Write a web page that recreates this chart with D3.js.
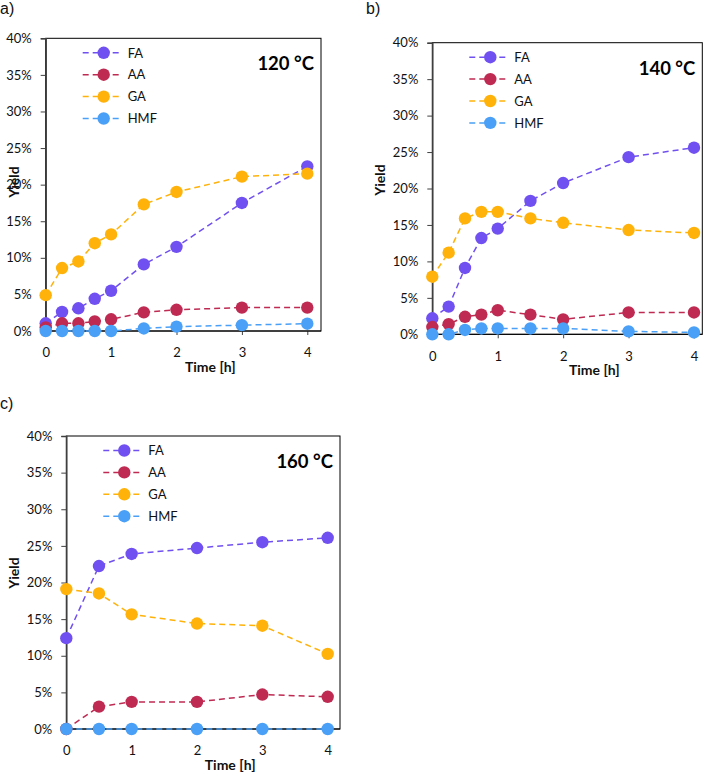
<!DOCTYPE html>
<html>
<head>
<meta charset="utf-8">
<script src="https://cdn.jsdelivr.net/npm/d3@7"></script>
<style>
  html, body { margin: 0; padding: 0; background: #fff; }
  svg { display: block; }
</style>
</head>
<body>
<svg id="chart" width="709" height="773"></svg>
<script>
// ---------- DATA ----------
const seriesNames = ["FA", "AA", "GA", "HMF"];
const seriesColors = ["#7050F0", "#BE2A52", "#FFB20A", "#4AA0F6"];
const yTicks = [0, 0.05, 0.10, 0.15, 0.20, 0.25, 0.30, 0.35, 0.40];
const xTicks = [0, 1, 2, 3, 4];

// 120 °C
const time120 = [0, 0.25, 0.5, 0.75, 1, 1.5, 2, 3, 4];
const fa120  = [0.0105, 0.026, 0.031, 0.044, 0.055, 0.091, 0.115, 0.175, 0.225];
const aa120  = [0.005, 0.0105, 0.0105, 0.013, 0.016, 0.0255, 0.029, 0.032, 0.032];
const ga120  = [0.049, 0.086, 0.095, 0.120, 0.132, 0.173, 0.190, 0.211, 0.215];
const hmf120 = [0, 0, 0, 0, 0, 0.0035, 0.006, 0.008, 0.010];

// 140 °C
const time140 = [0, 0.25, 0.5, 0.75, 1, 1.5, 2, 3, 4];
const fa140  = [0.022, 0.038, 0.091, 0.132, 0.145, 0.183, 0.2075, 0.243, 0.256];
const aa140  = [0.010, 0.014, 0.024, 0.027, 0.033, 0.027, 0.0205, 0.030, 0.030];
const ga140  = [0.079, 0.112, 0.159, 0.168, 0.168, 0.159, 0.153, 0.143, 0.139];
const hmf140 = [0, 0, 0.006, 0.008, 0.008, 0.008, 0.008, 0.004, 0.0025];

// 160 °C
const time160 = [0, 0.5, 1, 2, 3, 4];
const fa160  = [0.124, 0.2225, 0.239, 0.247, 0.255, 0.261];
const aa160  = [0, 0.0305, 0.037, 0.037, 0.047, 0.044];
const ga160  = [0.191, 0.185, 0.1565, 0.144, 0.141, 0.1025];
const hmf160 = [0, 0, 0, 0, 0, 0];

// ---------- LAYOUT ----------
const panels = [
  { tag: "a)", temp: "120 °C", t: time120, ys: [fa120, aa120, ga120, hmf120],
    x0: 45.7, x4: 307.3, right: 321, yTop: 38.3, yBot: 331, tagX: 0, tagY: 14, yieldX: 19, yieldY: 182 },
  { tag: "b)", temp: "140 °C", t: time140, ys: [fa140, aa140, ga140, hmf140],
    x0: 432.3, x4: 694, right: 702.3, yTop: 42.7, yBot: 334.3, tagX: 366, tagY: 14, yieldX: 385, yieldY: 180 },
  { tag: "c)", temp: "160 °C", t: time160, ys: [fa160, aa160, ga160, hmf160],
    x0: 66.3, x4: 327.7, right: 340, yTop: 436, yBot: 729, tagX: 0, tagY: 409, yieldX: 19, yieldY: 573 }
];

const svg = d3.select("#chart");
const FONT = "Lato, 'Open Sans', sans-serif";

panels.forEach(p => {
  const x = d3.scaleLinear().domain([0, 4]).range([p.x0, p.x4]);
  const y = d3.scaleLinear().domain([0, 0.4]).range([p.yBot, p.yTop]);
  const g = svg.append("g");

  // panel tag
  g.append("text").attr("x", p.tagX).attr("y", p.tagY)
    .attr("font-family", "'Liberation Sans', Arial, sans-serif").attr("font-size", 16)
    .attr("fill", "#111").text(p.tag);

  // plot border
  g.append("rect").attr("x", p.x0).attr("y", p.yTop)
    .attr("width", p.right - p.x0).attr("height", p.yBot - p.yTop)
    .attr("fill", "none").attr("stroke", "#000").attr("stroke-width", 1);

  // y axis
  const yAxis = d3.axisLeft(y).tickValues(yTicks).tickFormat(d3.format(".0%"))
    .tickSize(5).tickPadding(9);
  const ya = g.append("g").attr("transform", `translate(${p.x0},0)`).call(yAxis);
  ya.select(".domain").attr("stroke", "#404040").attr("stroke-width", 1.5);
  ya.selectAll(".tick line").attr("stroke", "#404040");
  ya.selectAll("text").attr("font-family", FONT).attr("font-size", 13).attr("fill", "#111");

  // x axis
  const xAxis = d3.axisBottom(x).tickValues(xTicks).tickFormat(d3.format("d"))
    .tickSize(4).tickPadding(13);
  const xa = g.append("g").attr("transform", `translate(0,${p.yBot})`).call(xAxis);
  xa.select(".domain").remove();
  xa.append("line").attr("x1", p.x0).attr("x2", p.right).attr("stroke", "#000");
  xa.selectAll(".tick line").attr("stroke", "#404040");
  xa.selectAll("text").attr("font-family", FONT).attr("font-size", 13).attr("fill", "#111");

  // axis titles
  g.append("text").attr("x", (p.x0 + p.right) / 2 + 27).attr("y", p.yBot + 41)
    .attr("text-anchor", "middle").attr("font-family", FONT).attr("font-weight", "bold")
    .attr("font-size", 14).attr("fill", "#111").text("Time [h]");
  g.append("text").attr("transform", `translate(${p.yieldX},${p.yieldY}) rotate(-90)`)
    .attr("text-anchor", "middle").attr("font-family", FONT).attr("font-weight", "bold")
    .attr("font-size", 14).attr("fill", "#111").text("Yield");

  // temperature label
  g.append("text").attr("x", p.right - 7).attr("y", p.yTop + 32)
    .attr("text-anchor", "end").attr("font-family", FONT).attr("font-weight", "bold")
    .attr("font-size", 18.5).attr("fill", "#000").text(p.temp);

  // series
  const line = d3.line().x(d => x(d[0])).y(d => y(d[1]));
  p.ys.forEach((vals, i) => {
    const pts = p.t.map((t, k) => [t, vals[k]]);
    g.append("path").datum(pts).attr("d", line).attr("fill", "none")
      .attr("stroke", seriesColors[i]).attr("stroke-width", 1.5)
      .attr("stroke-dasharray", "6,4");
    g.selectAll(null).data(pts).enter().append("circle")
      .attr("cx", d => x(d[0])).attr("cy", d => y(d[1])).attr("r", 6.2)
      .attr("fill", seriesColors[i]);
  });

  // legend
  const lx = p.x0 + 37, ly = p.yTop + 14.5;
  seriesNames.forEach((name, i) => {
    const yy = ly + i * 21.9;
    g.append("line").attr("x1", lx).attr("x2", lx + 40).attr("y1", yy).attr("y2", yy)
      .attr("stroke", seriesColors[i]).attr("stroke-width", 1.5).attr("stroke-dasharray", "6,4");
    g.append("circle").attr("cx", lx + 21).attr("cy", yy).attr("r", 6.2).attr("fill", seriesColors[i]);
    g.append("text").attr("x", lx + 45).attr("y", yy + 4.7)
      .attr("font-family", FONT).attr("font-size", 13).attr("fill", "#111").text(name);
  });
});
</script>
</body>
</html>
